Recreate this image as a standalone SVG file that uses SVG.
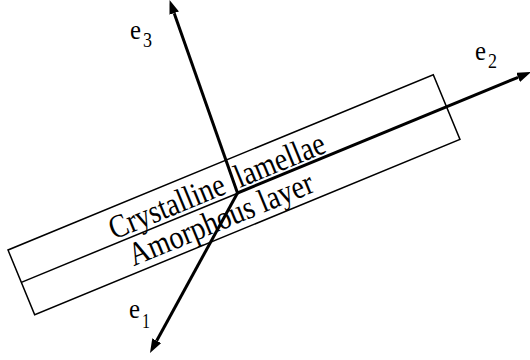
<svg xmlns="http://www.w3.org/2000/svg" width="530" height="360" viewBox="0 0 530 360">
<style>
.thin{fill:none;stroke:#000;stroke-width:1.5}
.axis{fill:none;stroke:#000;stroke-width:3}
.lbl{font-family:"Liberation Serif","Times New Roman",serif;fill:#000}
.big{font-size:33px}
.e{font-size:28px}
.sub{font-size:21px}
</style>
<defs>
<marker id="arr" viewBox="0 0 14 10" refX="0" refY="5" markerWidth="14" markerHeight="10" markerUnits="userSpaceOnUse" orient="auto">
<path d="M0,0 L14,5 L0,10 z" fill="#000"/>
</marker>
</defs>
<g id="layers" transform="translate(8,250) rotate(-22.4)">
<rect class="thin" x="0" y="0" width="460" height="70"/>
<line class="thin" x1="0" y1="35" x2="234" y2="35"/>
<text class="lbl big" x="102" y="31" textLength="123" lengthAdjust="spacingAndGlyphs">Crystalline</text>
<text class="lbl big" x="238" y="31" textLength="95" lengthAdjust="spacingAndGlyphs">lamellae</text>
<text class="lbl big" x="110" y="63" textLength="197" lengthAdjust="spacingAndGlyphs">Amorphous layer</text>
</g>
<g id="axes">
<line class="axis" x1="237.5" y1="193" x2="174.2" y2="13.2" marker-end="url(#arr)"/>
<line class="axis" x1="237.5" y1="193" x2="518.1" y2="77.3" marker-end="url(#arr)"/>
<line class="axis" x1="237.5" y1="193" x2="156.7" y2="340.7" marker-end="url(#arr)"/>
</g>
<g id="label-e3"><text class="lbl e" x="130" y="39" textLength="11" lengthAdjust="spacingAndGlyphs">e</text><text class="lbl sub" x="143" y="47" textLength="9" lengthAdjust="spacingAndGlyphs">3</text></g>
<g id="label-e2"><text class="lbl e" x="475" y="60" textLength="11" lengthAdjust="spacingAndGlyphs">e</text><text class="lbl sub" x="488" y="68" textLength="9" lengthAdjust="spacingAndGlyphs">2</text></g>
<g id="label-e1"><text class="lbl e" x="129" y="318" textLength="11" lengthAdjust="spacingAndGlyphs">e</text><text class="lbl sub" x="142" y="328" textLength="8" lengthAdjust="spacingAndGlyphs">1</text></g>
</svg>
